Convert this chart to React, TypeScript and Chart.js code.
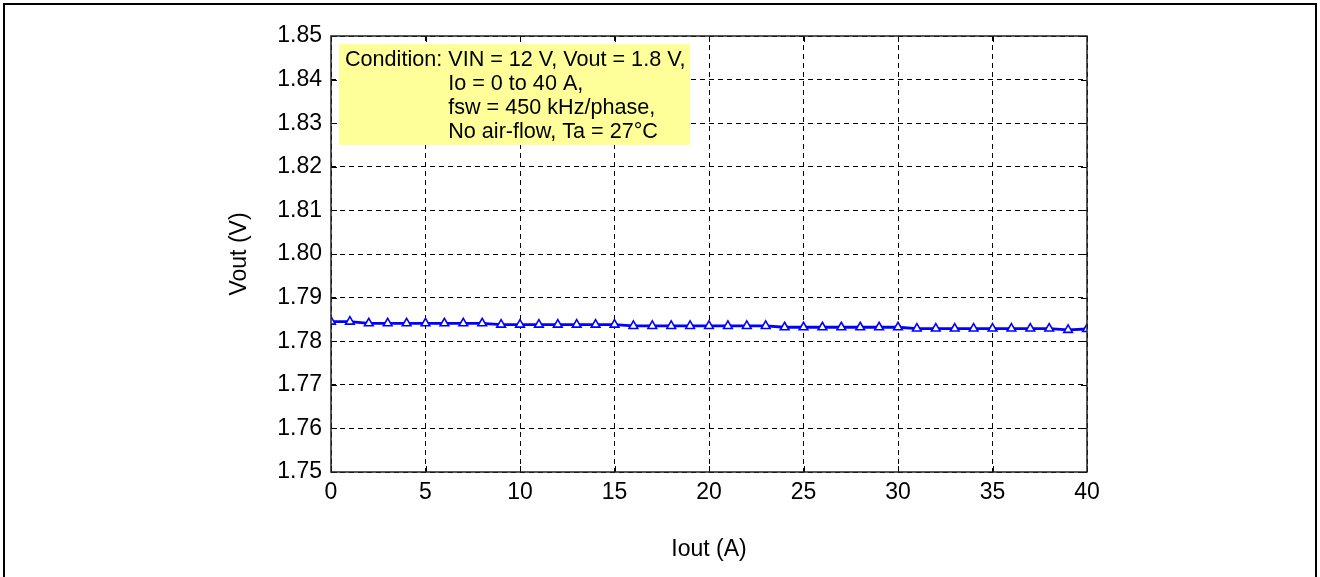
import React, { useEffect, useRef } from "react";
import { Chart, registerables } from "chart.js";

Chart.register(...registerables);

const ioutA = [
  0, 1, 2, 3, 4, 5, 6, 7, 8, 9, 10, 11, 12, 13, 14, 15, 16, 17, 18, 19, 20,
  21, 22, 23, 24, 25, 26, 27, 28, 29, 30, 31, 32, 33, 34, 35, 36, 37, 38, 39, 40,
];
const voutV = [
  1.7845, 1.7845, 1.7841, 1.7841, 1.7841, 1.7841, 1.7841, 1.7841, 1.7841,
  1.7838, 1.7838, 1.7838, 1.7838, 1.7838, 1.7838, 1.7838,
  1.7835, 1.7835, 1.7835, 1.7835, 1.7835, 1.7835, 1.7835, 1.7835,
  1.7832, 1.7832, 1.7832, 1.7832, 1.7832, 1.7832, 1.7832,
  1.7829, 1.7829, 1.7829, 1.7829, 1.7829, 1.7829, 1.7829, 1.7829,
  1.7826, 1.7828,
];
const xAxisTitle = "Iout (A)";
const yAxisTitle = "Vout (V)";
const conditionLabel = "Condition: ";
const conditionLines = [
  "VIN = 12 V, Vout = 1.8 V,",
  "Io = 0 to 40 A,",
  "fsw = 450 kHz/phase,",
  "No air-flow, Ta = 27°C",
];

const FONT = "'Liberation Sans', Arial, Helvetica, sans-serif";

const decorPlugin = {
  id: "decor",
  beforeDraw(chart: any) {
    const { ctx, width } = chart;
    ctx.save();
    ctx.fillStyle = "#ffffff";
    ctx.fillRect(0, 0, width, chart.height);
    ctx.restore();
  },
  afterDraw(chart: any) {
    const { ctx, chartArea: a, scales } = chart;
    ctx.save();
    // outer frame
    ctx.strokeStyle = "#000";
    ctx.lineWidth = 2;
    ctx.strokeRect(4, 4, chart.width - 8, chart.height + 20);
    // inward tick marks
    ctx.lineWidth = 1;
    ctx.beginPath();
    for (const t of scales.x.ticks) {
      const px = Math.round(scales.x.getPixelForValue(t.value)) + 0.5;
      ctx.moveTo(px, a.top);
      ctx.lineTo(px, a.top + 6);
      ctx.moveTo(px, a.bottom);
      ctx.lineTo(px, a.bottom - 6);
    }
    for (const t of scales.y.ticks) {
      const py = Math.round(scales.y.getPixelForValue(t.value)) + 0.5;
      ctx.moveTo(a.left, py);
      ctx.lineTo(a.left + 6, py);
      ctx.moveTo(a.right, py);
      ctx.lineTo(a.right - 6, py);
    }
    ctx.stroke();
    // plot border
    ctx.strokeStyle = "#222";
    ctx.lineWidth = 1.5;
    ctx.strokeRect(a.left, a.top, a.right - a.left, a.bottom - a.top);
    // condition box
    const bx = a.left + 8;
    const by = a.top + 8;
    ctx.fillStyle = "#ffff99";
    ctx.fillRect(bx, by, 351, 101);
    ctx.fillStyle = "#000";
    ctx.font = `21.6px ${FONT}`;
    ctx.textBaseline = "middle";
    ctx.textAlign = "left";
    const tx = bx + 6;
    const indent = tx + ctx.measureText(conditionLabel).width;
    ctx.fillText(conditionLabel, tx, by + 16);
    conditionLines.forEach((line, i) => {
      ctx.fillText(line, indent, by + 16 + i * 24);
    });
    ctx.restore();
  },
};

export default function App() {
  const ref = useRef<HTMLCanvasElement>(null);
  useEffect(() => {
    if (!ref.current) return;
    const chart = new Chart(ref.current, {
      type: "line",
      data: {
        labels: ioutA,
        datasets: [
          {
            data: ioutA.map((x, i) => ({ x, y: voutV[i] })),
            borderColor: "#0000ff",
            borderWidth: 2.8,
            pointStyle: "triangle",
            pointRadius: 5,
            pointBorderWidth: 1.6,
            pointBackgroundColor: "#ffffff",
            pointBorderColor: "#0000ff",
            fill: false,
            tension: 0,
          },
        ],
      },
      options: {
        animation: false,
        responsive: true,
        maintainAspectRatio: false,
        layout: { padding: { left: 0, top: 36, right: 233, bottom: 0 } },
        plugins: { legend: { display: false }, tooltip: { enabled: false } },
        scales: {
          x: {
            type: "linear",
            min: 0,
            max: 40,
            ticks: {
              stepSize: 5,
              padding: 7,
              color: "#000",
              font: { family: FONT, size: 23 },
            },
            grid: { color: "#000", lineWidth: 1, drawTicks: false },
            border: { display: false, dash: [5, 4] },
            title: {
              display: true,
              text: xAxisTitle,
              color: "#000",
              font: { family: FONT, size: 23 },
              padding: { top: 0, bottom: 14 },
            },
            afterFit: (s: any) => {
              s.height = 105;
            },
          },
          y: {
            min: 1.75,
            max: 1.85,
            ticks: {
              stepSize: 0.01,
              padding: 9,
              color: "#000",
              font: { family: FONT, size: 23 },
              callback: (v: any) => Number(v).toFixed(2),
            },
            grid: { color: "#000", lineWidth: 1, drawTicks: false },
            border: { display: false, dash: [5, 4] },
            title: {
              display: true,
              text: yAxisTitle,
              color: "#000",
              font: { family: FONT, size: 23 },
              padding: { top: 226, bottom: 0 },
            },
            afterFit: (s: any) => {
              s.width = 331;
            },
          },
        },
      },
      plugins: [decorPlugin],
    });
    return () => chart.destroy();
  }, []);
  return (
    <div
      style={{
        position: "absolute",
        left: 0,
        top: 0,
        width: 1320,
        height: 577,
      }}
    >
      <canvas ref={ref} />
    </div>
  );
}
